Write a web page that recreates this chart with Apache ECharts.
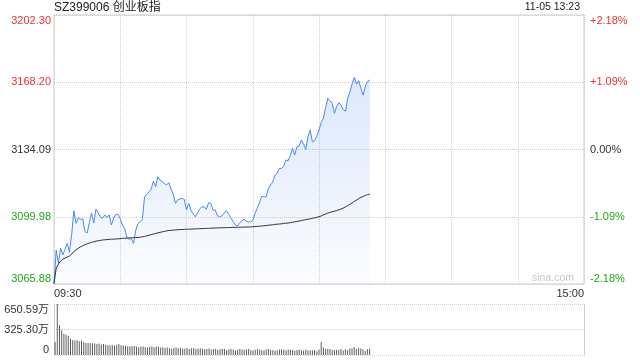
<!DOCTYPE html>
<html>
<head>
<meta charset="utf-8">
<script src="https://cdn.jsdelivr.net/npm/echarts@6/dist/echarts.min.js"></script>
<style>html,body{margin:0;padding:0;background:#fff}#c{width:640px;height:360px}</style>
</head>
<body>
<div id="c"></div>
<script>
// ---- data ----
const titleText = 'SZ399006 创业板指';
const dateText = '11-05 13:23';
const preClose = 3134.09;
const priceMin = 3065.88, priceMax = 3202.30;
const leftLabels = ['3065.88', '3099.98', '3134.09', '3168.20', '3202.30'];
const rightLabels = ['-2.18%', '-1.09%', '0.00%', '+1.09%', '+2.18%'];
const volLabels = ['0', '325.30万', '650.59万'];
const volMax = 650.59;

const prices = [
3066.0,3083.0,3076.5,3084.0,3080.6,3083.5,3086.5,3082.0,3091.0,3103.0,
3096.7,3099.5,3098.5,3099.0,3092.5,3091.7,3097.0,3101.9,3096.8,3103.9,
3101.9,3100.0,3099.3,3100.9,3099.7,3100.9,3095.8,3099.3,3101.2,3101.2,
3099.0,3095.8,3094.0,3089.5,3088.5,3089.0,3086.5,3093.0,3096.5,3097.5,
3098.6,3110.0,3111.5,3112.5,3114.0,3118.0,3115.2,3120.3,3118.6,3117.8,
3116.8,3116.1,3117.3,3114.0,3111.5,3106.8,3108.5,3109.0,3109.3,3108.8,
3103.4,3106.8,3103.4,3101.4,3100.0,3102.0,3104.0,3105.0,3105.0,3103.8,
3107.1,3106.8,3103.4,3103.4,3100.5,3100.0,3100.4,3101.7,3103.0,3101.5,
3099.5,3097.8,3096.0,3095.3,3096.7,3098.0,3098.7,3097.8,3097.3,3097.5,
3098.0,3101.5,3104.3,3107.0,3110.2,3110.2,3110.0,3114.0,3116.0,3117.5,
3121.0,3122.0,3124.5,3124.5,3125.5,3128.8,3128.4,3131.0,3134.7,3131.3,
3135.5,3135.9,3138.9,3136.9,3134.2,3140.6,3144.0,3138.0,3138.5,3140.8,
3144.0,3147.8,3150.0,3155.5,3160.1,3158.8,3157.5,3152.4,3156.0,3157.8,
3156.5,3154.3,3153.5,3160.1,3163.2,3167.5,3170.7,3167.3,3169.0,3165.1,
3161.7,3166.3,3168.7,3169.3
];

const avgPrices = [
3066.0,3074.0,3076.0,3077.5,3078.5,3079.0,3079.5,3080.1,3081.0,3082.4,
3083.3,3084.0,3084.7,3085.3,3085.8,3086.3,3086.6,3087.0,3087.3,3087.6,
3087.8,3088.0,3088.2,3088.3,3088.4,3088.5,3088.6,3088.6,3088.7,3088.8,
3088.9,3089.0,3089.1,3089.2,3089.3,3089.3,3089.4,3089.4,3089.5,3089.6,
3089.8,3090.0,3090.3,3090.6,3090.9,3091.2,3091.5,3091.8,3092.1,3092.3,
3092.6,3092.8,3093.0,3093.1,3093.2,3093.3,3093.4,3093.5,3093.5,3093.6,
3093.6,3093.7,3093.7,3093.8,3093.8,3093.9,3093.9,3094.0,3094.0,3094.1,
3094.1,3094.2,3094.2,3094.3,3094.3,3094.4,3094.4,3094.4,3094.5,3094.5,
3094.5,3094.6,3094.6,3094.6,3094.7,3094.7,3094.7,3094.8,3094.8,3094.8,
3094.9,3095.0,3095.1,3095.2,3095.3,3095.4,3095.5,3095.7,3095.8,3095.9,
3096.1,3096.2,3096.3,3096.4,3096.6,3096.7,3096.8,3097.0,3097.2,3097.4,
3097.6,3097.8,3098.0,3098.3,3098.5,3098.7,3098.9,3099.2,3099.4,3099.7,
3100.0,3100.4,3100.9,3101.4,3101.8,3102.2,3102.5,3102.8,3103.1,3103.5,
3103.9,3104.4,3105.0,3105.6,3106.3,3107.0,3107.8,3108.5,3109.2,3109.8,
3110.3,3110.8,3111.2,3111.5
];

// volume in 万
const volumes = [
166,650.59,379,315,272,259,242,208,187,184,
187,174,184,166,153,153,150,150,146,140,
146,135,140,130,125,120,128,120,130,140,
125,122,118,112,110,112,115,108,100,105,
110,100,95,105,108,100,110,104,96,100,
90,95,86,80,90,95,85,88,80,82,
90,78,85,88,75,80,85,80,72,78,
82,70,75,80,68,72,80,75,65,72,
78,70,60,68,75,70,65,72,78,60,
58,66,72,70,62,58,70,76,68,62,
55,60,70,72,66,62,70,68,60,56,
65,70,60,58,66,62,56,60,64,48,
70,166,95,78,78,78,65,65,68,65,
78,58,72,62,80,86,102,78,92,84,
72,55,78,80
];

// trading minutes 09:30-11:30, 13:01-15:00
const times = [];
function pad(n){return (n<10?'0':'')+n;}
for (let m = 9*60+30; m <= 11*60+30; m++) times.push(pad(Math.floor(m/60))+':'+pad(m%60));
for (let m = 13*60+1; m <= 15*60; m++) times.push(pad(Math.floor(m/60))+':'+pad(m%60));

const RED = '#f23030', GREEN = '#1ea51e', DARK = '#333';
const leftColors = [GREEN, GREEN, DARK, RED, RED];

const chart = echarts.init(document.getElementById('c'), null, {renderer: 'canvas'});
const grid0 = {left: 54, right: 56, top: 15, bottom: 76};
const grid1 = {left: 54, right: 56, top: 304, bottom: 5};
const gridLine = {color: '#d0d0d0', type: 'dotted', width: 1};
const font = "'Liberation Sans', Arial, 'Noto Sans CJK SC', sans-serif";

chart.setOption({
  animation: false,
  textStyle: {fontFamily: font},
  title: [
    {text: titleText, left: 54, top: 2, padding: 0,
     textStyle: {fontSize: 12, fontWeight: 'normal', color: '#222', fontFamily: font}},
    {text: dateText, right: 60, top: 2, padding: 0,
     textStyle: {fontSize: 10.5, fontWeight: 'normal', color: '#222', fontFamily: font}}
  ],
  graphic: [{
    type: 'text', left: 532, top: 273, silent: true,
    style: {text: 'sina.com', fill: '#c8c8c8', fontSize: 10.5, fontFamily: font}
  }],
  grid: [
    Object.assign({show: true, borderColor: '#cccccc', borderWidth: 1, backgroundColor: 'transparent'}, grid0),
    Object.assign({show: false}, grid1)
  ],
  xAxis: [
    {gridIndex: 0, type: 'category', data: times, boundaryGap: false,
     axisLine: {show: false}, axisTick: {show: false},
     axisLabel: {
       interval: function (i) { return i === 0 || i === times.length - 1; },
       alignMinLabel: 'left', alignMaxLabel: 'right',
       color: DARK, fontSize: 11, margin: 4
     },
     splitLine: {show: true, interval: function (i) { return i % 30 === 0; }, lineStyle: gridLine}
    },
    {gridIndex: 1, type: 'category', data: times, boundaryGap: true,
     axisLine: {show: false}, axisTick: {show: false}, axisLabel: {show: false}, splitLine: {show: false}}
  ],
  yAxis: [
    {gridIndex: 0, type: 'value', min: priceMin, max: priceMax, interval: (priceMax - priceMin) / 4,
     axisLine: {show: false}, axisTick: {show: false},
     axisLabel: {
       formatter: function (v, i) { return leftLabels[i]; },
       color: function (v, i) { return leftColors[i]; },
       fontSize: 11, margin: 3,
       verticalAlignMinLabel: 'bottom', verticalAlignMaxLabel: 'top'
     },
     splitLine: {show: true, lineStyle: gridLine}
    },
    {gridIndex: 0, type: 'value', position: 'right', min: -2.18, max: 2.18, interval: 1.09,
     axisLine: {show: false}, axisTick: {show: false},
     axisLabel: {
       formatter: function (v, i) { return rightLabels[i]; },
       color: function (v, i) { return leftColors[i]; },
       fontSize: 11, margin: 6,
       verticalAlignMinLabel: 'bottom', verticalAlignMaxLabel: 'top'
     },
     splitLine: {show: false}
    },
    {gridIndex: 1, type: 'value', min: 0, max: volMax, interval: volMax / 2,
     axisLine: {show: true, lineStyle: {color: '#cccccc'}}, axisTick: {show: false},
     axisLabel: {
       formatter: function (v, i) { return volLabels[i]; },
       color: DARK, fontSize: 11, margin: 5,
       verticalAlignMinLabel: 'bottom', verticalAlignMaxLabel: 'top'
     },
     splitLine: {show: true, lineStyle: gridLine}
    },
    {gridIndex: 1, type: 'value', position: 'right', min: 0, max: volMax, interval: volMax / 2,
     axisLine: {show: true, lineStyle: {color: '#cccccc'}}, axisTick: {show: false},
     axisLabel: {show: false}, splitLine: {show: false}
    }
  ],
  series: [
    {type: 'line', xAxisIndex: 0, yAxisIndex: 0, data: prices, symbol: 'none', smooth: false,
     lineStyle: {color: '#4a89f0', width: 1},
     areaStyle: {origin: 'start', color: new echarts.graphic.LinearGradient(0, 0, 0, 1, [
       {offset: 0, color: 'rgba(74,137,240,0.28)'},
       {offset: 1, color: 'rgba(74,137,240,0.03)'}
     ])},
     z: 3
    },
    {type: 'line', xAxisIndex: 0, yAxisIndex: 0, data: avgPrices, symbol: 'none',
     lineStyle: {color: '#333', width: 1}, z: 4},
    {type: 'bar', xAxisIndex: 1, yAxisIndex: 2, data: volumes, barWidth: 1,
     itemStyle: {color: '#5e5e5e'}}
  ]
});
</script>
</body>
</html>
